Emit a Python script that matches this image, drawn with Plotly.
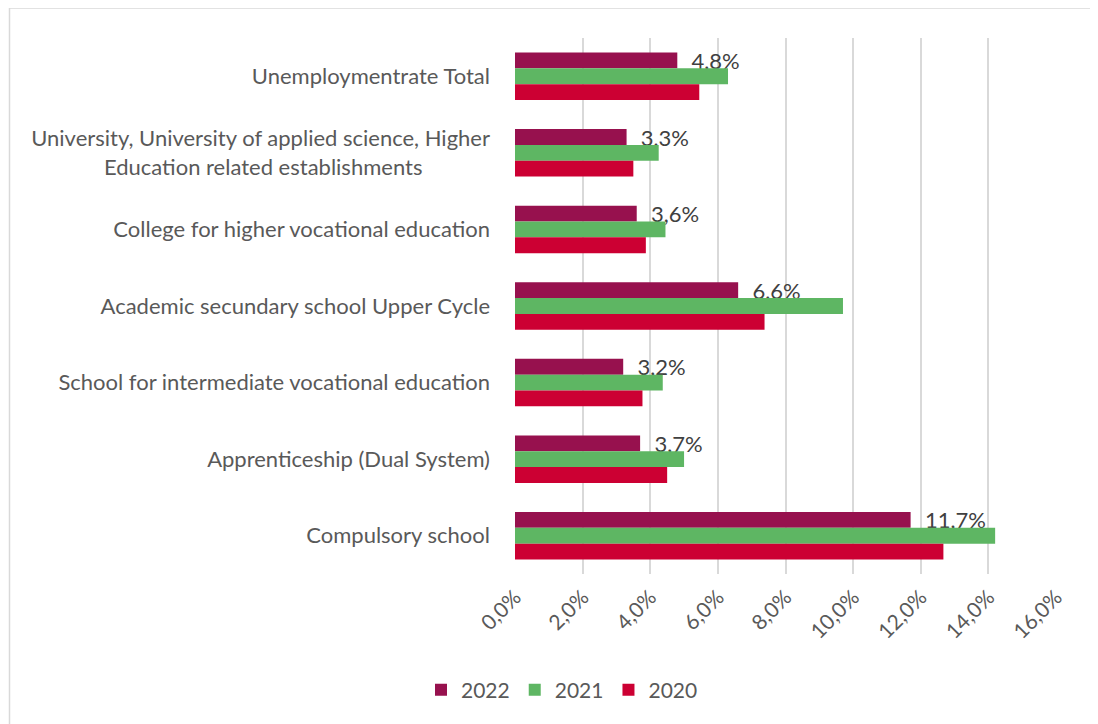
import plotly.graph_objects as go

categories = [
    "Unemploymentrate Total",
    "University, University of applied science, Higher<br>Education related establishments" + "\u00a0" * 12,
    "College for higher vocational education",
    "Academic secundary school Upper Cycle",
    "School for intermediate vocational education",
    "Apprenticeship (Dual System)",
    "Compulsory school",
]
years = ["2022", "2021", "2020"]
v2022 = [0.048, 0.033, 0.036, 0.066, 0.032, 0.037, 0.117]
v2021 = [0.063, 0.0425, 0.0445, 0.097, 0.0437, 0.050, 0.142]
v2020 = [0.0545, 0.035, 0.0387, 0.0738, 0.0377, 0.045, 0.1267]
tick_vals = [0, 0.02, 0.04, 0.06, 0.08, 0.10, 0.12, 0.14, 0.16]

colors = {"2022": "#97114E", "2021": "#5EB663", "2020": "#CC0033"}
FONT = "Lato"
W, H = 1090, 716
L, T, R, B = 507, 30, 42, 150
PW = W - L - R
PH = H - T - B

fig = go.Figure()
for yr, vals in [("2022", v2022), ("2021", v2021), ("2020", v2020)]:
    kw = {}
    if yr == "2022":
        kw = dict(texttemplate="\u00a0\u00a0%{x:.1%}", textposition="outside",
                  textfont=dict(family=FONT, size=22, color="#404040"),
                  constraintext="none", cliponaxis=False)
    fig.add_trace(go.Bar(
        y=categories, x=vals, name=yr, orientation="h",
        marker=dict(color=colors[yr], line=dict(width=0)),
        **kw,
    ))

fig.update_layout(
    width=W, height=H,
    barmode="group", bargap=0.38, bargroupgap=0,
    separators=",.",
    paper_bgcolor="white", plot_bgcolor="white",
    margin=dict(l=L, r=R, t=T, b=B, autoexpand=False),
    font=dict(family=FONT, size=21, color="#595959"),
    showlegend=True,
    legend=dict(orientation="h", x=(554 - L) / PW, xanchor="center",
                y=(H - B - 682) / PH, yanchor="middle",
                traceorder="normal", font=dict(family=FONT, size=21, color="#595959"),
                itemwidth=30),
    xaxis=dict(range=[0, 0.16], tickvals=tick_vals, tickformat=".1%", tickangle=-45,
               showgrid=True, gridcolor="#D9D9D9", gridwidth=1.5, zeroline=False,
               showline=False, ticks="", ticklabelstandoff=6,
               tickfont=dict(family=FONT, size=21, color="#595959")),
    yaxis=dict(autorange="reversed", showgrid=False, zeroline=False, showline=False,
               ticks="", ticklabelstandoff=24,
               tickfont=dict(family=FONT, size=22, color="#595959")),
    shapes=[dict(type="rect", xref="paper", yref="paper",
                 x0=(1.5 - L) / PW, x1=1.2, y0=-0.4, y1=(H - B) / PH,
                 line=dict(color="#D9D9D9", width=1.5), fillcolor="rgba(0,0,0,0)",
                 layer="below")],
)

fig.write_html("out.html")
